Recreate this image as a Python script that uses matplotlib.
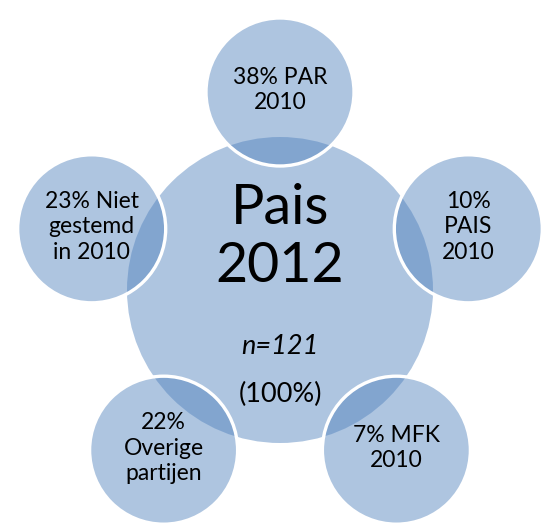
import matplotlib
matplotlib.use("Agg")
import matplotlib.pyplot as plt
from matplotlib.patches import Circle
import numpy as np

center_lines = ["Pais", "2012"]
center_sub = ["n=121", "(100%)"]
satellite_labels = ["38% PAR\n2010", "10%\nPAIS\n2010", "7% MFK\n2010",
                    "22%\nOverige\npartijen", "23% Niet\ngestemd\nin 2010"]
satellite_angles = [90, 18, -54, -126, 162]

W, H = 544, 523
fig = plt.figure(figsize=(W / 100, H / 100), dpi=100)
ax = fig.add_axes([0, 0, 1, 1])
ax.set_xlim(0, W)
ax.set_ylim(H, 0)
ax.set_aspect("equal")
ax.axis("off")

base = (0x4F / 255, 0x81 / 255, 0xBD / 255, 0.46)
cx, cy, R = 280, 290, 153
dist, r = 198, 74

ax.add_patch(Circle((cx, cy), R, facecolor=base, edgecolor="none", zorder=1))

font = "Lato"
for i, (lab, ang) in enumerate(zip(satellite_labels, satellite_angles)):
    a = np.deg2rad(ang)
    sx = cx + dist * np.cos(a)
    sy = cy - dist * np.sin(a)
    ax.add_patch(Circle((sx, sy), r, facecolor=base, edgecolor="white",
                        linewidth=2.4, zorder=2 + i))
    ax.text(sx, sy - 2, lab, ha="center", va="center", fontsize=16.5,
            family=font, linespacing=1.25, zorder=10)

ax.text(cx, 208, center_lines[0], ha="center", va="center", fontsize=40, family=font, zorder=10)
ax.text(cx, 266, center_lines[1], ha="center", va="center", fontsize=40, family=font, zorder=10)
ax.text(cx, 347, center_sub[0], ha="center", va="center", fontsize=19.5, family=font,
        style="italic", zorder=10)
ax.text(cx, 394, center_sub[1], ha="center", va="center", fontsize=19.5, family=font, zorder=10)

fig.savefig("out.png", dpi=100, facecolor="white")
